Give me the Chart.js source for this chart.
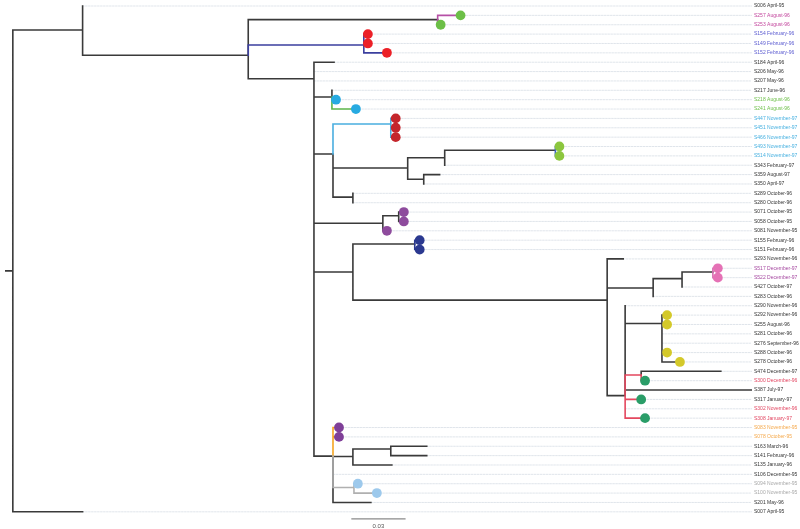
<!DOCTYPE html>
<html>
<head>
<meta charset="utf-8">
<script src="https://cdn.jsdelivr.net/npm/chart.js@4.4.1/dist/chart.umd.min.js"></script>
<style>
  html, body { margin: 0; padding: 0; background: #fff; }
</style>
</head>
<body>
<canvas id="myChart" width="800" height="529"></canvas>
<script>
// tips, top to bottom
var leafNames = ['S006','S257','S253','S154','S149','S152','S184','S206','S207','S217',
  'S218','S241','S447','S451','S466','S493','S514','S343','S359','S350',
  'S289','S280','S071','S058','S081','S155','S151','S293','S517','S522',
  'S427','S283','S290','S292','S255','S281','S276','S288','S278','S474',
  'S300','S387','S317','S302','S308','S083','S078','S163','S141','S135',
  'S106','S094','S100','S201','S007'];
var leafDates = ['April-95','August-96','August-96','February-96','February-96','February-96','April-96','May-96','May-96','June-96',
  'August-96','August-96','November-97','November-97','November-97','November-97','November-97','February-97','August-97','April-97',
  'October-96','October-96','October-95','October-95','November-95','February-96','February-96','November-96','December-97','December-97',
  'October-97','October-96','November-96','November-96','August-96','October-96','September-96','October-96','October-96','December-97',
  'December-96','July-97','January-97','November-96','January-97','November-95','October-95','March-96','February-96','January-96',
  'December-95','November-95','November-95','May-96','April-95'];
var leafParent = ['A','C','C','D','D','D','E','E','E','F',
  'F','F','G1','G1','G1','LG','LG','J','K','K',
  'I','I','M','M','L','NV','NV','O','PK','PK',
  'R','P','Q','T','T','T','T','T','T','U',
  'U','Q','Q','Q','Q','V','V','X','X','W',
  'V','GR','GR','V','root'];
// distance from root (substitutions per site)
var leafDist = [0.0441,0.2586,0.2473,0.2060,0.2060,0.2168,0.1868,0.1754,0.1754,0.1856,
  0.1879,0.1992,0.2218,0.2218,0.2218,0.3147,0.3147,0.2496,0.2467,0.2377,
  0.1975,0.1975,0.2264,0.2264,0.2168,0.2354,0.2354,0.3509,0.4046,0.4046,
  0.3843,0.3679,0.3520,0.3758,0.3758,0.3729,0.3729,0.3758,0.3831,0.4063,
  0.3633,0.4239,0.3611,0.3520,0.3633,0.1896,0.1896,0.2394,0.2394,0.2196,
  0.1862,0.2003,0.2111,0.2077,0.0441];

// internal nodes
var nodeIds    = ['stub','root','A','B','C','D','E','F','G','G1','H','J','LG','K','I','L','M','N','NV','O','P','R','PK','Q','T','U','V','W','X','GR'];
var nodeParent = [null,'stub','root','A','B','B','B','E','E','G','G','H','J','H','G','E','L','E','N','N','O','P','R','O','Q','Q','E','V','W','V'];
var nodeDist   = [0,0.0045,0.0441,0.1381,0.2456,0.2037,0.1754,0.1856,0.1862,0.2190,0.2286,0.2496,0.3124,0.2377,0.1975,0.2145,0.2235,0.1975,0.2326,0.3418,0.3679,0.3843,0.4018,0.3520,0.3729,0.3611,0.1862,0.1975,0.2190,0.1981];
var nodeRow    = [28.28,28.28,2.56,5.26,1.45,4.16,7.76,9.71,15.8,12.6,17.3,16.2,15.4,18.5,20.4,23.2,22.4,28.4,25.4,31.4,30.1,29.1,28.4,41.6,33.9,39.4,48.05,48.1,47.3,51.4];

var scaleBarStart = 0.197;
var scaleBarLength = 0.03;

// styles
var ink = '#3a3a3a';
var branchColor = {
  S257: '#b650a6', S253: '#b650a6',
  D: '#3b3f9e', S154: '#3b3f9e', S149: '#3b3f9e', S152: '#3b3f9e',
  S241: '#5cb54a',
  G1: '#4aaee0', S447: '#4aaee0', S451: '#4aaee0', S466: '#4aaee0',
  S493: '#3d66c4', S514: '#3d66c4',
  S517: '#d46fb0', S522: '#d46fb0',
  S155: '#2b3990', S151: '#2b3990',
  U: '#e4475e', S300: '#e4475e', S317: '#e4475e', S302: '#e4475e', S308: '#e4475e',
  S083: '#f5a623', S078: '#f5a623',
  GR: '#b0b0b0', S094: '#b0b0b0', S100: '#b0b0b0'
};
var dotColor = {
  S257: '#6cbf47', S253: '#6cbf47',
  S154: '#ec2027', S149: '#ec2027', S152: '#ec2027',
  S218: '#27aae1', S241: '#27aae1',
  S447: '#c4262c', S451: '#c4262c', S466: '#c4262c',
  S493: '#8cc63e', S514: '#8cc63e',
  S071: '#8e4b9d', S058: '#8e4b9d', S081: '#8e4b9d',
  S155: '#2b3990', S151: '#2b3990',
  S517: '#e571b5', S522: '#e571b5',
  S292: '#d4c92a', S255: '#d4c92a', S288: '#d4c92a', S278: '#d4c92a',
  S300: '#2a9d68', S317: '#2a9d68', S308: '#2a9d68',
  S083: '#7f3f98', S078: '#7f3f98',
  S094: '#9dc9ec', S100: '#9dc9ec'
};
var labelColor = {
  S257: '#c2449c', S253: '#c2449c',
  S154: '#5a5ad0', S149: '#5a5ad0', S152: '#5a5ad0',
  S218: '#6cbf47', S241: '#6cbf47',
  S447: '#46b0e0', S451: '#46b0e0', S466: '#46b0e0', S493: '#46b0e0', S514: '#46b0e0',
  S517: '#a548a0', S522: '#a548a0',
  S300: '#e24560', S302: '#e24560', S308: '#e24560',
  S083: '#f5a84a', S078: '#f5a84a',
  S094: '#a8a8a8', S100: '#a8a8a8'
};

var place = {};
nodeIds.forEach(function (id, i) { place[id] = {x: nodeDist[i], y: nodeRow[i], parent: nodeParent[i]}; });
leafNames.forEach(function (id, i) { place[id] = {x: leafDist[i], y: i, parent: leafParent[i]}; });

var xMax = Math.max.apply(null, leafDist);

// elbow branches grouped by colour
var groups = {};
Object.keys(place).forEach(function (id) {
  var p = place[id];
  if (!p.parent) return;
  var q = place[p.parent];
  var col = branchColor[id] || ink;
  if (!groups[col]) groups[col] = [];
  groups[col].push({x: q.x, y: q.y}, {x: q.x, y: p.y}, {x: p.x, y: p.y}, {x: NaN, y: NaN});
});

var guides = [];
leafNames.forEach(function (n, i) {
  guides.push({x: leafDist[i], y: i}, {x: xMax, y: i}, {x: NaN, y: NaN});
});

var dots = [], dotCols = [];
leafNames.forEach(function (n, i) {
  if (dotColor[n]) { dots.push({x: leafDist[i], y: i}); dotCols.push(dotColor[n]); }
});

function lineSet(data, color, width, dash) {
  return {
    data: data, showLine: true, borderColor: color, borderWidth: width,
    borderDash: dash || [], pointRadius: 0, spanGaps: false, tension: 0,
    borderCapStyle: 'square', borderJoinStyle: 'miter'
  };
}

var datasets = [];
datasets.push({data: dots, showLine: false, pointRadius: 4.9, pointHoverRadius: 4.9,
  pointBackgroundColor: dotCols, pointBorderWidth: 0});
datasets.push(lineSet([{x: scaleBarStart, y: 54.75}, {x: scaleBarStart + scaleBarLength, y: 54.75}], '#8a8a8a', 1.4));
Object.keys(groups).forEach(function (col) {
  if (col !== ink) datasets.push(lineSet(groups[col], col, 1.6));
});
datasets.push(lineSet(groups[ink], ink, 1.6));
datasets.push(lineSet(guides, '#d3dae2', 0.7, [1.5, 1.5]));

var scaleLabel = {
  id: 'scaleLabel',
  afterDraw: function (chart) {
    var xs = chart.scales.x, ys = chart.scales.y, c = chart.ctx;
    c.save();
    c.font = '6px "Liberation Sans"';
    c.fillStyle = '#555';
    c.textAlign = 'center';
    c.textBaseline = 'middle';
    c.fillText(scaleBarLength.toFixed(2), xs.getPixelForValue(scaleBarStart + scaleBarLength / 2), ys.getPixelForValue(55.5));
    c.restore();
  }
};

var ctx = document.getElementById('myChart').getContext('2d');
var chart = new Chart(ctx, {
  type: 'scatter',
  data: {datasets: datasets},
  options: {
    responsive: false,
    animation: false,
    layout: {padding: {left: 3, top: 5, right: 0, bottom: 4.8}},
    plugins: {legend: {display: false}, tooltip: {enabled: false}},
    scales: {
      x: {type: 'linear', display: false, min: 0, max: 0.424},
      y: {
        type: 'linear', position: 'right', reverse: true, min: -0.107, max: 55.3,
        grid: {display: false, drawTicks: false},
        border: {display: false},
        afterBuildTicks: function (scale) {
          scale.ticks = leafNames.map(function (n, i) { return {value: i}; });
        },
        afterFit: function (scale) { scale.width = 48; },
        ticks: {
          autoSkip: false,
          padding: 2,
          font: {family: 'Liberation Sans', size: 5},
          color: function (c) { return labelColor[leafNames[c.index]] || '#333'; },
          callback: function (value) { return leafNames[value] + ' ' + leafDates[value]; }
        }
      }
    }
  },
  plugins: [scaleLabel]
});
</script>
</body>
</html>
